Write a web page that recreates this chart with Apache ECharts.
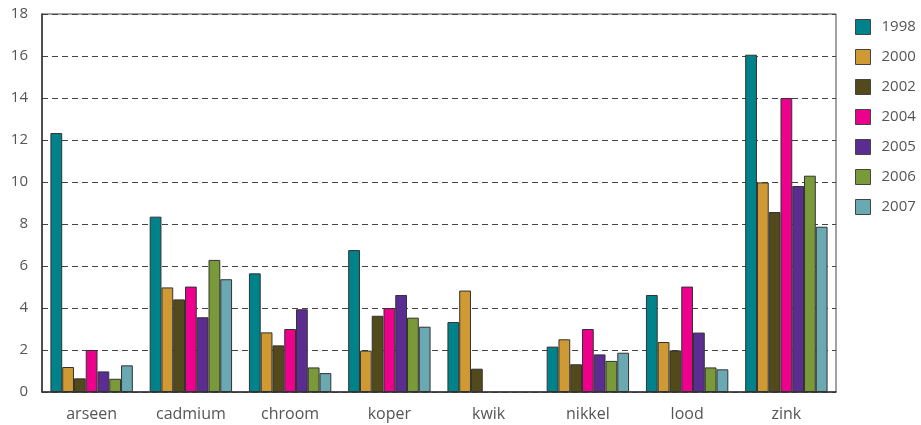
<!DOCTYPE html>
<html><head><meta charset="utf-8">
<script src="https://cdn.jsdelivr.net/npm/echarts@6/dist/echarts.min.js"></script>
<style>html,body{margin:0;padding:0;background:#fff}#c{width:921px;height:425px}</style>
</head><body><div id="c"></div>
<script>
const categories = ['arseen','cadmium','chroom','koper','kwik','nikkel','lood','zink'];
const years = ['1998','2000','2002','2004','2005','2006','2007'];
const v1998 = [12.33, 8.35, 5.65, 6.76, 3.33, 2.16, 4.62, 16.06];
const v2000 = [1.19, 4.98, 2.84, 1.97, 4.83, 2.51, 2.38, 9.98];
const v2002 = [0.65, 4.41, 2.22, 3.63, 1.11, 1.32, 1.98, 8.57];
const v2004 = [2.0, 5.02, 3.0, 4.0, null, 3.0, 5.02, 14.0];
const v2005 = [0.98, 3.56, 3.94, 4.62, null, 1.79, 2.83, 9.81];
const v2006 = [0.63, 6.29, 1.17, 3.54, null, 1.48, 1.17, 10.3];
const v2007 = [1.27, 5.37, 0.9, 3.11, null, 1.87, 1.08, 7.87];
const yTicks = [0, 18, 2];
const seriesValues = [v1998, v2000, v2002, v2004, v2005, v2006, v2007];
const colors = ['#00828A','#CF9A33','#524A1A','#EC008C','#5C2D91','#7A9A3A','#6AA8B2'];
const font = 'Open Sans';
const chart = echarts.init(document.getElementById('c'));
chart.setOption({
  animation: false,
  color: colors,
  grid: {left: 42, right: 85, top: 14, bottom: 33, show: true, borderColor: '#444', borderWidth: 1},
  legend: {
    orient: 'vertical', left: 850, top: 14, itemWidth: 15, itemHeight: 15, itemGap: 14,
    icon: 'rect',
    itemStyle: {borderColor: '#444', borderWidth: 1},
    textStyle: {fontFamily: font, fontSize: 15, color: '#555', padding: [0,0,0,6]},
    data: years
  },
  xAxis: {
    type: 'category', data: categories,
    axisLine: {lineStyle: {color: '#333', width: 1.5}},
    axisTick: {inside: true, length: 8, lineStyle: {color: '#333'}},
    axisLabel: {fontFamily: font, fontSize: 16, color: '#555', margin: 14}
  },
  yAxis: {
    type: 'value', min: yTicks[0], max: yTicks[1], interval: yTicks[2],
    axisLine: {show: true, lineStyle: {color: '#333', width: 1.5}},
    axisTick: {show: false},
    axisLabel: {fontFamily: font, fontSize: 15, color: '#555', margin: 14},
    splitLine: {lineStyle: {color: '#444', type: [6,4], width: 1.2}}
  },
  series: years.map((y, i) => ({
    name: y, type: 'bar', data: seriesValues[i],
    barGap: '0%', barCategoryGap: '17%',
    itemStyle: {borderColor: '#333', borderWidth: 1}
  }))
});
</script></body></html>
